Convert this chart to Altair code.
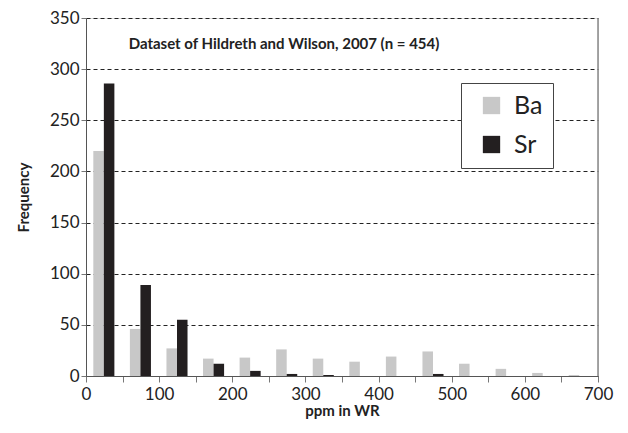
import altair as alt
import pandas as pd

bin_start = [0, 50, 100, 150, 200, 250, 300, 350, 400, 450, 500, 550, 600, 650]
ba = [220, 46, 27, 17, 18, 26, 17, 14, 19, 24, 12, 7, 3, 1]
sr = [286, 89, 55, 12, 5, 2, 1, 0, 0, 2, 0, 0, 0, 0]

rows = []
for s, b, r in zip(bin_start, ba, sr):
    rows.append({"start": s, "series": "Ba", "freq": b, "off": 0})
    rows.append({"start": s, "series": "Sr", "freq": r, "off": 1})
df = pd.DataFrame(rows)

FONT = "Lato"
W, H = 512, 358

xscale = alt.Scale(domain=[0, 700], nice=False, zero=True)
yscale = alt.Scale(domain=[0, 350], nice=False)

bars = alt.Chart(df).transform_calculate(
    x1="datum.start + 10 + datum.off * 14.4",
    x2="datum.start + 10 + (datum.off + 1) * 14.4",
).mark_bar(binSpacing=0).encode(
    x=alt.X("x1:Q", scale=xscale, axis=alt.Axis(
        title="ppm in WR", values=list(range(0, 701, 50)),
        labelExpr="datum.value % 100 == 0 ? datum.label : ''",
        grid=False, tickSize=6, labelFontSize=17, titleFontSize=15,
        titleFontWeight="bold", titlePadding=1, labelPadding=4,
        domainColor="#555555", tickColor="#777777", labelColor="#222222",
        titleColor="#222222", labelFont=FONT, titleFont=FONT, labelFlush=False)),
    x2="x2:Q",
    y=alt.Y("freq:Q", scale=yscale, axis=alt.Axis(
        title="Frequency", values=list(range(0, 351, 50)), grid=True,
        gridColor="#222222", gridDash=[4, 3], gridWidth=1, tickSize=5,
        labelFontSize=17, titleFontSize=15, titleFontWeight="bold",
        titlePadding=18, labelPadding=2, domainColor="#555555", tickColor="#777777",
        labelColor="#222222", titleColor="#222222", labelFont=FONT, titleFont=FONT)),
    y2=alt.datum(0),
    color=alt.Color("series:N", scale=alt.Scale(domain=["Ba", "Sr"], range=["#c8c8c8", "#231f20"]),
                    legend=alt.Legend(title=None, orient="none", legendX=375, legendY=65,
                                      symbolType="square", symbolSize=300, symbolStrokeWidth=0,
                                      symbolOffset=8, labelFontSize=25, labelFont=FONT,
                                      labelColor="#222222", rowPadding=13, padding=10,
                                      strokeColor="#444444", fillColor="white", labelOffset=10)),
)

right_border = alt.Chart(pd.DataFrame({"a": [0]})).mark_rule(color="#888888", strokeWidth=1.5).encode(
    x=alt.value(W), y=alt.value(0), y2=alt.value(H))

title = alt.Chart(pd.DataFrame({"t": ["Dataset of Hildreth and Wilson, 2007 (n = 454)"]})).mark_text(
    font=FONT, fontSize=15, fontWeight="bold", color="#222222", baseline="middle", align="center"
).encode(text="t:N", x=alt.value(198), y=alt.value(26))

chart = alt.layer(bars, right_border, title).properties(
    width=W, height=H, autosize="none",
    padding={"left": 78, "top": 10, "right": 20, "bottom": 48},
).configure_view(stroke=None).configure(background="white")

chart.save("out.html", embed_options={"renderer": "svg", "actions": False})
